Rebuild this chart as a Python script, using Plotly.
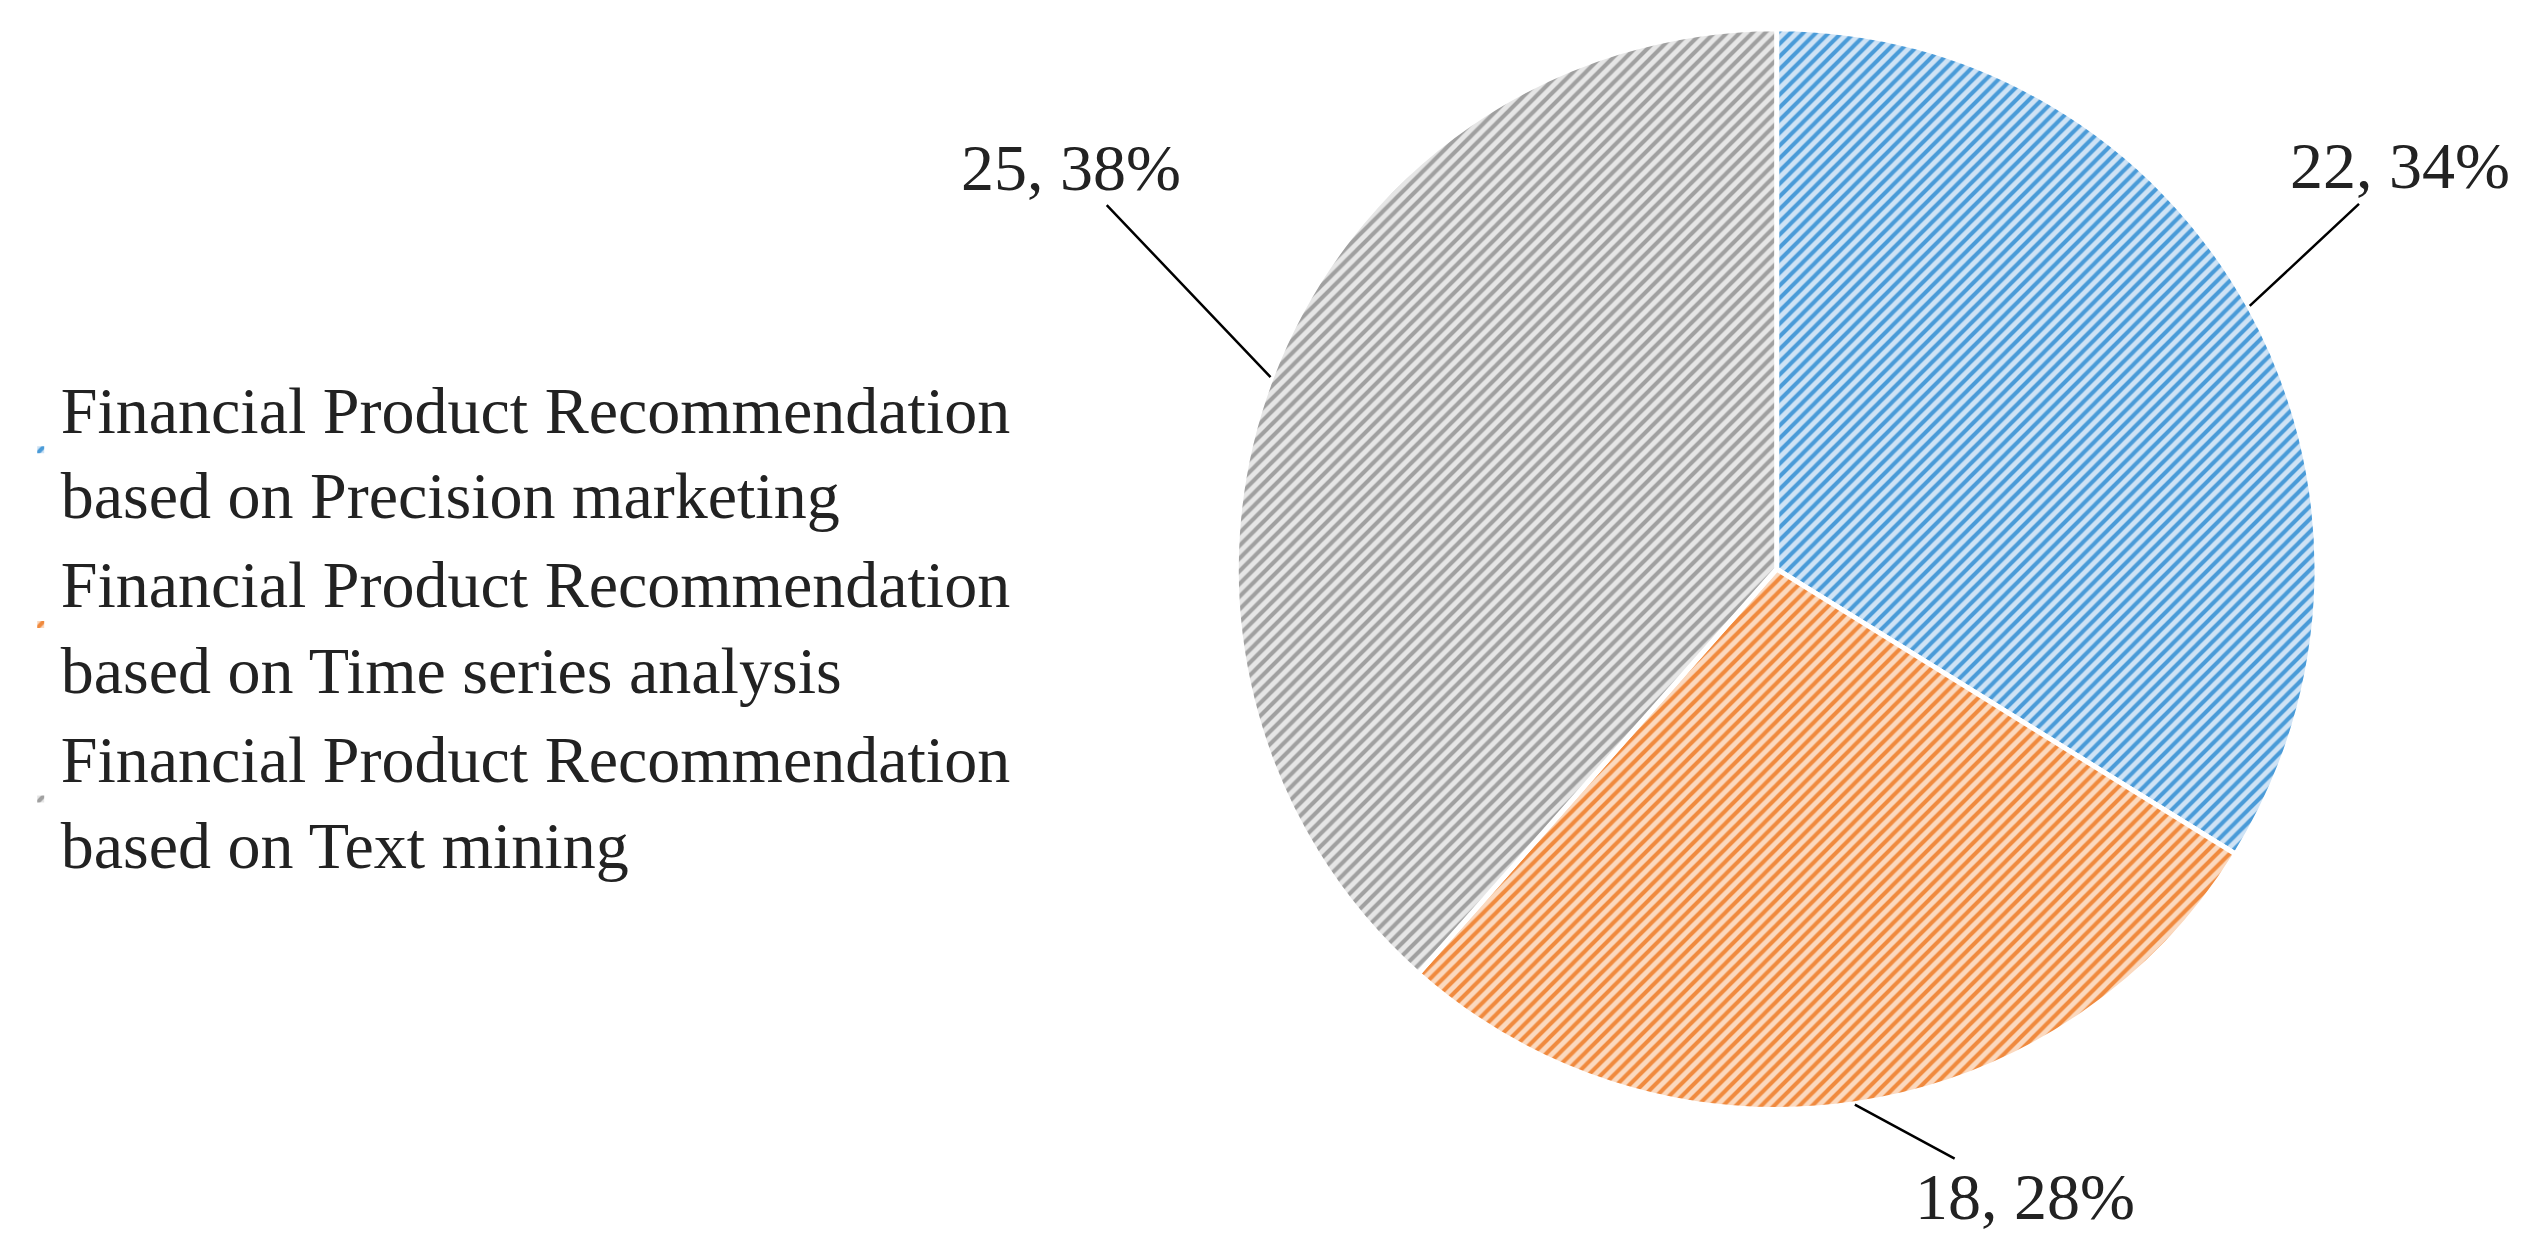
import math
import plotly.graph_objects as go

labels = ["Financial Product Recommendation<br>based on Precision marketing",
          "Financial Product Recommendation<br>based on Time series analysis",
          "Financial Product Recommendation<br>based on Text mining"]
values = [22, 18, 25]

W, H = 2543, 1233
dom_x = [0.483, 0.908]
dom_y = [0.106, 0.984]
fg = ["#4A9BD8", "#F08A3E", "#A0A0A0"]
bg = ["#CFE3F5", "#FBD9BF", "#E6E6E6"]
font = "Liberation Serif"
fs = 66

fig = go.Figure(go.Pie(
    labels=labels, values=values, sort=False, direction="clockwise", rotation=0,
    textinfo="none", hoverinfo="skip",
    marker=dict(colors=bg, line=dict(color="white", width=5),
                pattern=dict(shape="/", fgcolor=fg, bgcolor=bg, size=9, solidity=0.45)),
    domain=dict(x=dom_x, y=dom_y),
))

cx = (dom_x[0] + dom_x[1]) / 2
cy = (dom_y[0] + dom_y[1]) / 2
r = (dom_y[1] - dom_y[0]) * H / 2
total = sum(values)
offsets = [(150, -140), (170, 92), (-200, -210)]
cum = 0
for v, (ox, oy) in zip(values, offsets):
    th = 2 * math.pi * (cum + v / 2) / total
    cum += v
    ex = cx + r * math.sin(th) / W
    ey = cy + r * math.cos(th) / H
    pct = round(100 * v / total)
    fig.add_annotation(x=ex, y=ey, xref="paper", yref="paper", text=f"{v}, {pct}%",
                       showarrow=True, arrowhead=0, arrowwidth=2.5, arrowcolor="black",
                       ax=ox, ay=oy, standoff=0, startstandoff=0,
                       font=dict(family=font, size=fs, color="#222"))

fig.update_layout(
    width=W, height=H, margin=dict(l=0, r=0, t=0, b=0),
    paper_bgcolor="white", plot_bgcolor="white",
    font=dict(family=font, size=fs, color="#222"),
    legend=dict(x=0.005, y=0.5, xanchor="left", yanchor="middle",
                font=dict(family=font, size=fs), itemwidth=30),
)
fig.write_html("out.html")
